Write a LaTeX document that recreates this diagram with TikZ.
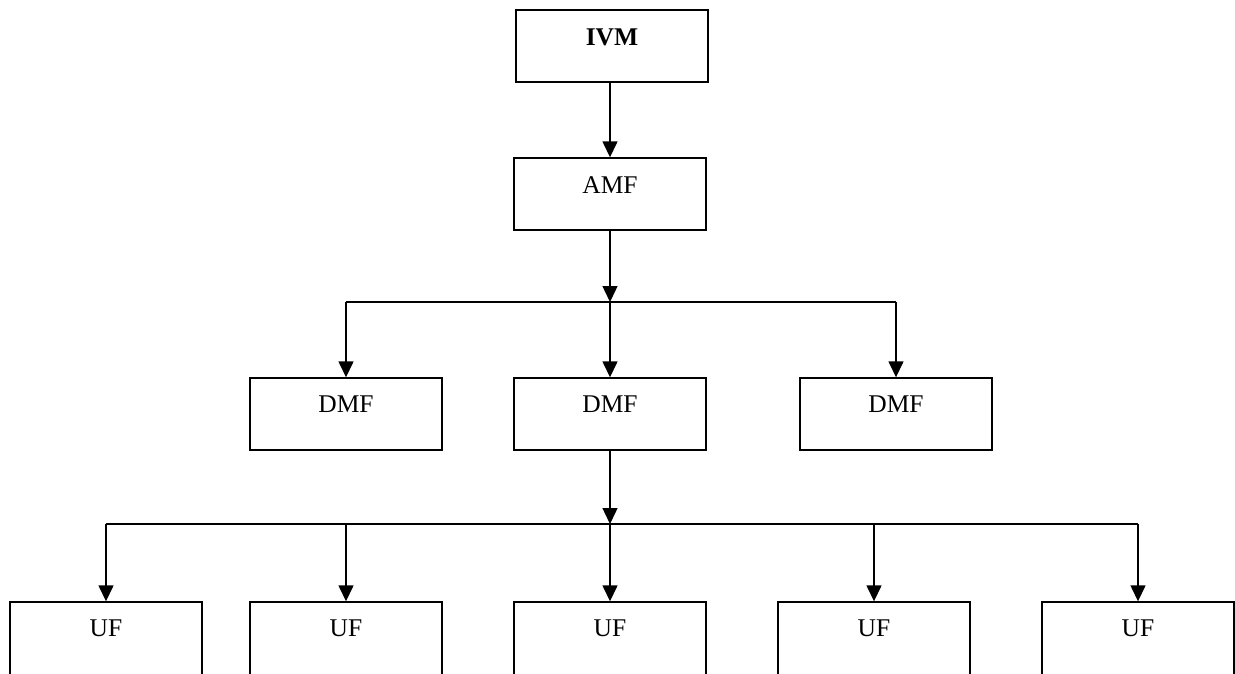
\documentclass[tikz,border=0pt]{standalone}
\usepackage{fontspec}
\setmainfont{Liberation Serif}
\usetikzlibrary{arrows.meta}
\begin{document}
\begin{tikzpicture}[x=1pt,y=-1pt,
  box/.style={draw,line width=1.4pt,minimum width=192pt,minimum height=72pt,inner sep=0pt},
  ubox/.style={box,minimum height=78pt},
  conn/.style={line width=1.4pt},
  arr/.style={line width=1.4pt,-{Triangle[length=16pt,width=15pt]}},
  lab/.style={font=\fontsize{25.5}{30}\selectfont}]
\useasboundingbox (0,0) rectangle (1235,673);
% boxes
\node[box,label={[lab,anchor=base,yshift=-36pt]north:\textbf{IVM}}] (ivm) at (612,46) {};
\node[box,label={[lab,anchor=base,yshift=-36pt]north:AMF}] (amf) at (610,194) {};
\node[box,label={[lab,anchor=base,yshift=-35pt]north:DMF}] (d1) at (346,414) {};
\node[box,label={[lab,anchor=base,yshift=-35pt]north:DMF}] (d2) at (610,414) {};
\node[box,label={[lab,anchor=base,yshift=-35pt]north:DMF}] (d3) at (896,414) {};
\node[ubox,label={[lab,anchor=base,yshift=-35pt]north:UF}] (u1) at (106,641) {};
\node[ubox,label={[lab,anchor=base,yshift=-35pt]north:UF}] (u2) at (346,641) {};
\node[ubox,label={[lab,anchor=base,yshift=-35pt]north:UF}] (u3) at (610,641) {};
\node[ubox,label={[lab,anchor=base,yshift=-35pt]north:UF}] (u4) at (874,641) {};
\node[ubox,label={[lab,anchor=base,yshift=-35pt]north:UF}] (u5) at (1138,641) {};
% junction coordinates
\coordinate (j1) at (610,302);
\coordinate (j2) at (610,524);
% connectors
\draw[arr] (ivm.south -| amf.north) -- (amf.north);
\draw[arr] (amf.south) -- (j1);
\draw[conn] (j1 -| d1.north) -- (j1 -| d3.north);
\draw[arr] (j1 -| d1.north) -- (d1.north);
\draw[arr] (j1) -- (d2.north);
\draw[arr] (j1 -| d3.north) -- (d3.north);
\draw[arr] (d2.south) -- (j2);
\draw[conn] (j2 -| u1.north) -- (j2 -| u5.north);
\draw[arr] (j2 -| u1.north) -- (u1.north);
\draw[arr] (j2 -| u2.north) -- (u2.north);
\draw[arr] (j2) -- (u3.north);
\draw[arr] (j2 -| u4.north) -- (u4.north);
\draw[arr] (j2 -| u5.north) -- (u5.north);
\end{tikzpicture}
\end{document}
